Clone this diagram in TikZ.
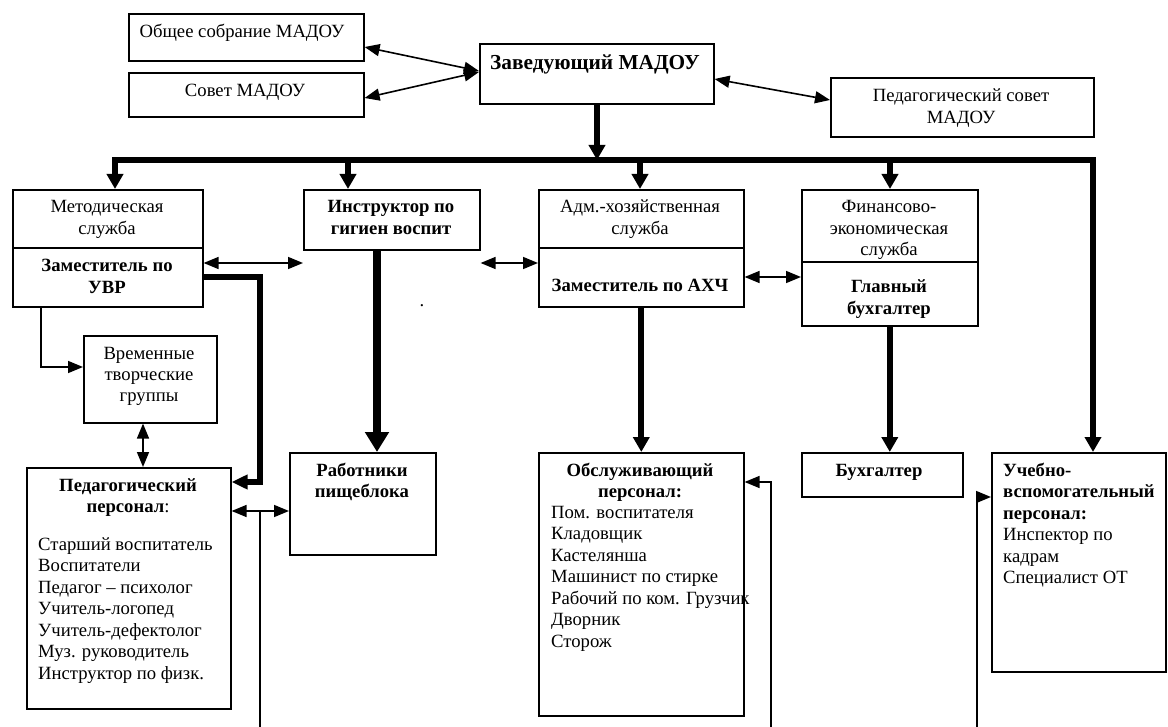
\documentclass[tikz,border=0pt]{standalone}
\usepackage{fontspec}
\setmainfont{Liberation Serif}
\usetikzlibrary{arrows.meta}
\newcommand\fs{\fontsize{18.67}{21.5}\selectfont}
\newcommand\fsbig{\fontsize{21.33}{24}\selectfont}
\begin{document}
\begin{tikzpicture}[x=1pt,y=-1pt,
 box/.style={draw, line width=1.6pt, anchor=north west, inner sep=0pt},
 txt/.style={font=\fs, align=center, inner sep=0pt, anchor=base},
 ltxt/.style={font=\fs, align=left, inner sep=0pt, anchor=base west},
 thinln/.style={line width=1.6pt},
 dbl/.style={thinln, {Triangle[length=15pt,width=12pt]}-{Triangle[length=15pt,width=12pt]}},
 sarr/.style={thinln, -{Triangle[length=15pt,width=12pt]}},
 thk/.style={line width=6pt, -{Triangle[length=15pt,width=16pt]}},
 vthk/.style={line width=8pt, -{Triangle[length=20pt,width=23pt]}},
]
\useasboundingbox[fill=white] (0,0) rectangle (1168,727);

% boxes
\node[box, minimum width=235pt, minimum height=47pt] (obs) at (128,13) {};
\node[box, minimum width=235pt, minimum height=44pt] (sov) at (128,72) {};
\node[box, minimum width=234pt, minimum height=60pt] (zav) at (479,43) {};
\node[box, minimum width=263pt, minimum height=59pt] (pedsov) at (830,77) {};
\node[box, minimum width=190pt, minimum height=117pt] (metod) at (12,189) {};
\node[box, minimum width=176pt, minimum height=60pt] (instr) at (303,189) {};
\node[box, minimum width=205pt, minimum height=117pt] (adm) at (538,189) {};
\node[box, minimum width=176pt, minimum height=136pt] (fin) at (801,189) {};
\node[box, minimum width=133pt, minimum height=87pt] (vrem) at (83,335) {};
\node[box, minimum width=204pt, minimum height=241pt] (pedp) at (26,467) {};
\node[box, minimum width=146pt, minimum height=102pt] (rab) at (289,452) {};
\node[box, minimum width=205pt, minimum height=263pt] (obsl) at (538,452) {};
\node[box, minimum width=161pt, minimum height=44pt] (buh) at (801,452) {};
\node[box, minimum width=174pt, minimum height=219pt] (ucheb) at (991,452) {};

% dividers
\draw[line width=1.6pt] (metod.west |- 0,248) -- (metod.east |- 0,248);
\draw[line width=1.6pt] (adm.west |- 0,248) -- (adm.east |- 0,248);
\draw[line width=1.6pt] (fin.west |- 0,262) -- (fin.east |- 0,262);

% texts (base anchor = baseline of the last line)
\node[txt] (tobs) at (242,38) {Общее собрание МАДОУ};
\node[txt] (tsov) at (245,97) {Совет МАДОУ};
\node[txt, font=\fsbig] (tzav) at (595,70) {\textbf{Заведующий МАДОУ}};
\node[txt] (tpedsov) at (961,123.5) {Педагогический совет\\МАДОУ};
\node[txt] (tmet) at (107,234.5) {Методическая\\служба};
\node[txt] (tuvr) at (107,293.5) {\textbf{Заместитель по}\\\textbf{УВР}};
\node[txt] (tinstr) at (391,234.5) {\textbf{Инструктор по}\\\textbf{гигиен воспит}};
\node[txt] (tadm) at (640,234.5) {Адм.-хозяйственная\\служба};
\node[txt] (tahch) at (640,292) {\textbf{Заместитель по АХЧ}};
\node[txt] (tfin) at (889,256) {Финансово-\\экономическая\\служба};
\node[txt] (tglb) at (889,314.5) {\textbf{Главный}\\\textbf{бухгалтер}};
\node[txt] (tvrem) at (149,402) {Временные\\творческие\\группы};
\node[txt] (tpedh) at (128,512.5) {\textbf{Педагогический}\\\textbf{персонал}:};
\node[ltxt] (tpedl) at (38,679) {Старший воспитатель\\Воспитатели\\Педагог – психолог\\Учитель-логопед\\Учитель-дефектолог\\Муз. руководитель\\Инструктор по физк.};
\node[txt] (trab) at (362,497.5) {\textbf{Работники}\\\textbf{пищеблока}};
\node[txt] (tobslh) at (640,497.5) {\textbf{Обслуживающий}\\\textbf{персонал:}};
\node[ltxt] (tobsll) at (551,647) {Пом. воспитателя\\Кладовщик\\Кастелянша\\Машинист по стирке\\Рабочий по ком. Грузчик\\Дворник\\Сторож};
\node[txt] (tbuh) at (879,476) {\textbf{Бухгалтер}};
\node[ltxt] (tuch) at (1003,583.5) {\textbf{Учебно-}\\\textbf{вспомогательный}\\\textbf{персонал:}\\Инспектор по\\кадрам\\Специалист ОТ};
\node[txt] (dot) at (422,307) {.};

% coordinates
\coordinate (busL) at (115,160);
\coordinate (busR) at (1093,160);
\coordinate (b2) at (348,160);
\coordinate (b3) at (640,160);
\coordinate (b4) at (890,160);
\coordinate (uvr) at (260,482);
\coordinate (vtop) at (260,511);
\coordinate (vbot) at (260,727);
\coordinate (ob) at (771,727);
\coordinate (bb) at (977,727);

% top connectors
\draw[dbl] (zav.west |- 0,71) -- (obs.east |- 0,47);
\draw[dbl] (zav.west |- 0,72) -- (sov.east |- 0,98);
\draw[dbl] (zav.east |- 0,79) -- (pedsov.west |- 0,100);
\draw[thk] (zav.south -| 597,0) -- (597,160);

% bus
\draw[line width=6pt, {Triangle[length=15pt,width=16pt]}-{Triangle[length=15pt,width=16pt]}]
  (busL |- metod.north) -- (busL) -- (busR) -- (busR |- ucheb.north);
\draw[thk] (b2) -- (b2 |- instr.north);
\draw[thk] (b3) -- (b3 |- adm.north);
\draw[thk] (b4) -- (b4 |- fin.north);

% middle row
\draw[dbl] (metod.east |- 0,263) -- (instr.west |- 0,263);
\draw[dbl] (instr.east |- 0,263) -- (adm.west |- 0,263);
\draw[dbl] (adm.east |- 0,277) -- (fin.west |- 0,277);
\draw[sarr] (metod.south -| 41,0) |- (vrem.west |- 0,367);
\draw[dbl] (vrem.south -| 143,0) -- (pedp.north -| 143,0);
\draw[line width=6pt, -{Triangle[length=16pt,width=14pt]}] (metod.east |- 0,277) -| (uvr) -- (pedp.east |- uvr);
\draw[dbl] (pedp.east |- vtop) -- (rab.west |- vtop);
\draw[thinln] (vtop) -- (vbot);
\draw[vthk] (instr.south -| 377,0) -- (rab.north -| 377,0);
\draw[thk] (adm.south) -- (obsl.north);
\draw[thk] (fin.south) -- (fin.south |- buh.north);
\draw[sarr] (ob) |- (obsl.east |- 0,482);
\draw[sarr] (bb) |- (ucheb.west |- 0,497);
\end{tikzpicture}
\end{document}
